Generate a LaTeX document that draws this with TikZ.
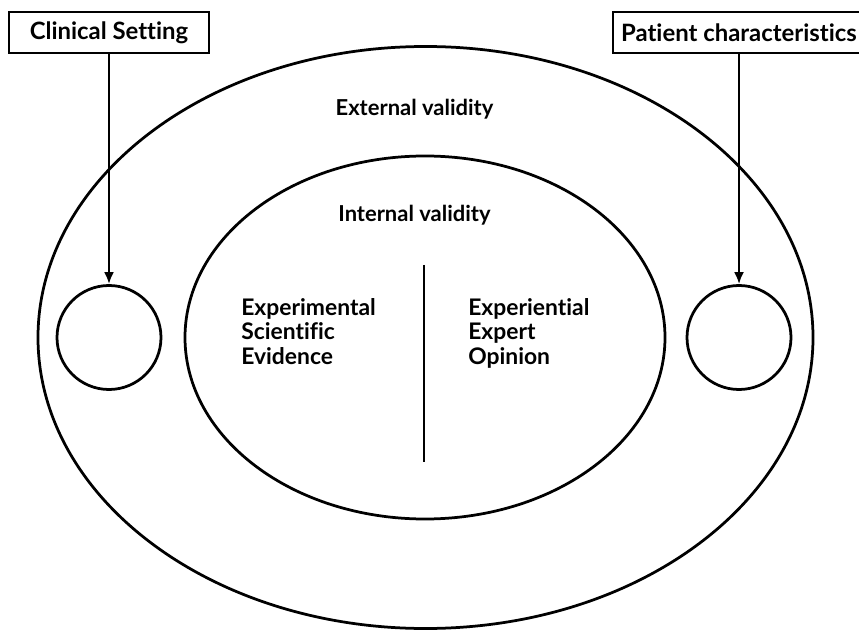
\documentclass[tikz,border=0pt]{standalone}
\usepackage{fontspec}
\setmainfont{Lato}[Ligatures=NoCommon]
\usetikzlibrary{arrows.meta}

\tikzset{
	labelbox/.style={draw, line width=0.45mm, rectangle, inner sep=0, minimum height=0.82cm, font=\bfseries\fontsize{13.6}{15}\selectfont},
	smallcirc/.style={draw, line width=0.55mm, circle, inner sep=0, minimum size=2.08cm},
	heading/.style={anchor=base, inner sep=0, font=\bfseries\fontsize{12.5}{15}\selectfont},
	evidence/.style={anchor=base west, inner sep=0, align=left, font=\bfseries\fontsize{13}{13.66}\selectfont},
	pointer/.style={line width=0.45mm, -{Latex[length=2.4mm, width=2mm]}}
}

\begin{document}
\begin{tikzpicture}
			%%%%% START %%%%%
			
			\clip (0, 0) rectangle (17.18, 12.58);
			
			\draw[line width=0.55mm] (8.51, 5.83) ellipse [x radius=7.75, y radius=5.82];
			\draw[line width=0.55mm] (8.5, 5.83) ellipse [x radius=4.8, y radius=3.63];
			
			\node[heading] (external) at (8.29, 10.26) {External validity};
			\node[heading] (internal) at (8.29, 8.14) {Internal validity};
			
			\draw[line width=0.5mm] (8.48, 7.28) -- (8.48, 3.34);
			
			% last line sits on the given baseline
			\node[evidence] (scientific) at (4.82, 5.30) {Experimental\\Scientific\\Evidence};
			\node[evidence] (expert) at (9.36, 5.30) {Experiential\\Expert\\Opinion};
			
			\node[smallcirc] (settingcirc) at (2.18, 5.83) {};
			\node[smallcirc] (patientcirc) at (14.78, 5.83) {};
			
			\node[labelbox, minimum width=4.0cm] (setting) at (2.18, 11.93) {Clinical Setting};
			\node[labelbox, minimum width=5.04cm] (patient) at (14.78, 11.93) {Patient characteristics};
			
			\draw[pointer] (setting) -- (settingcirc);
			\draw[pointer] (patient) -- (patientcirc);
			
			%%%%% END %%%%%
\end{tikzpicture}
\end{document}
